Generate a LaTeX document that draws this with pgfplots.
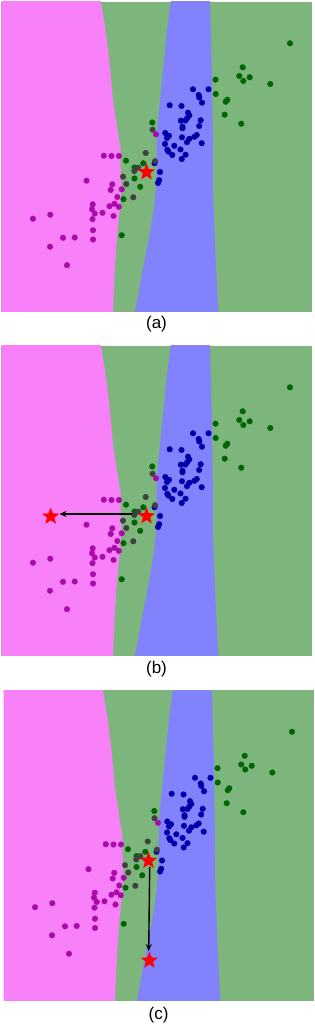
\documentclass[border=0pt]{standalone}
\usepackage{fontspec}
\setmainfont{Liberation Sans}
\usepackage{pgfplots}
\usepackage{pgfplotstable}
\pgfplotsset{compat=1.18}
\usetikzlibrary{arrows.meta}
\definecolor{cpink}{RGB}{248,128,248}
\definecolor{cgreen}{RGB}{125,182,125}
\definecolor{cblue}{RGB}{130,130,252}
\definecolor{pmag}{RGB}{170,10,170}
\definecolor{pgreen}{RGB}{0,100,0}
\definecolor{pblue}{RGB}{0,0,170}
\definecolor{pgray}{RGB}{64,64,64}

\pgfdeclareplotmark{fstar}{%
 \pgfpathmoveto{\pgfpointpolar{90}{\pgfplotmarksize}}%
 \pgfpathlineto{\pgfpointpolar{126}{0.42\pgfplotmarksize}}%
 \pgfpathlineto{\pgfpointpolar{162}{\pgfplotmarksize}}%
 \pgfpathlineto{\pgfpointpolar{198}{0.42\pgfplotmarksize}}%
 \pgfpathlineto{\pgfpointpolar{234}{\pgfplotmarksize}}%
 \pgfpathlineto{\pgfpointpolar{270}{0.42\pgfplotmarksize}}%
 \pgfpathlineto{\pgfpointpolar{306}{\pgfplotmarksize}}%
 \pgfpathlineto{\pgfpointpolar{342}{0.42\pgfplotmarksize}}%
 \pgfpathlineto{\pgfpointpolar{18}{\pgfplotmarksize}}%
 \pgfpathlineto{\pgfpointpolar{54}{0.42\pgfplotmarksize}}%
 \pgfpathclose\pgfusepathqfill}

% decision regions
\pgfplotstableread{
x y
-10 -10
101 -10
101 2
106 33
110 67
113 100
118 133
120.7 150
120.7 167
121.7 187
120.7 200
117.3 233
115 267
113 312
113 330
-10 330
}\pinkregion
\pgfplotstableread{
x y
170.7 -10
170.7 2
166.7 33
163.3 67
160 100
156.7 133
156.7 160
156 187
154 207
150 233
143.3 267
135 312
135 330
218.3 330
218.3 312
216 267
213.3 200
212.7 133
211.7 67
210 2
210 -10
}\blueregion

% scatter points
\pgfplotstableread{
x y
290 43.3
242.7 67.3
239.3 76
243.3 81
249.7 77.3
270.3 84
215.5 79.7
215.7 94
227.3 99.7
225.7 101.7
224.7 114.7
241.3 123.7
152.3 122.5
126 160.7
134.5 167.5
143.3 163.3
134.5 178.5
140.2 186.8
123.5 199.2
121.7 235.3
}\greenpts
\pgfplotstableread{
x y
152.5 129.7
145.7 153
138.3 167.7
134.3 171
155 161.2
123 176.7
126.3 184
133.3 197.3
}\graypts
\pgfplotstableread{
x y
103.8 155.7
111.5 156
119 156
156 134.3
86.5 180.7
112.3 184.3
110.7 190
121.7 189.3
117.3 197
92.7 204.3
92 209.2
94.7 213.5
102.5 212.8
109.5 206.2
114.5 203.8
113.5 216
118.8 206.8
33 218.7
50.3 214.7
92.5 219.2
93 230.2
63 237.8
74.7 237.5
93 239.5
50 246.8
67 265.2
}\magpts
\pgfplotstableread{
x y
193 89.3
208.5 89.3
198.7 95
199.3 97.5
202 102.7
169.7 105.3
181.5 106
188 112.7
189.3 115.5
187.2 118.2
200.7 120.3
180.8 120.7
185.5 120.5
182.5 126.7
182.5 128.3
199.2 126
165.3 133
169 135.8
167 138
196.7 135
194.3 136.8
189.3 138.8
187 142.2
182 137.3
201.7 143.2
165 144
174.3 145.8
167.3 149.8
168.3 151.5
180.5 149.5
172.3 155
185.5 154.7
181.7 159
160 172
159.2 180.2
158 183
154.5 163.3
}\bluepts

\pgfplotsset{
 panel/.style={
  scale only axis, width=310pt, height=310pt,
  xmin=1.5, xmax=311.5, ymin=2, ymax=312, y dir=reverse,
  ticks=none, axis line style={draw=none},
  axis background/.style={fill=cgreen},
  anchor=south west,
  xlabel style={at={(axis description cs:0.5,0)}, anchor=center, font=\fontsize{17}{20}\selectfont},
 },
 dots/.style={only marks, mark=*, mark size=2.8pt, mark options={draw=none}},
}

\newcommand{\drawbase}{%
 \addplot[fill=cpink, draw=none] table {\pinkregion};
 \addplot[fill=cblue, draw=none] table {\blueregion};
 \addplot[dots, pgreen] table {\greenpts};
 \addplot[dots, pmag] table {\magpts};
 \addplot[dots, pblue] table {\bluepts};
 \addplot[dots, pgray] table {\graypts};
}

\begin{document}
\begin{tikzpicture}
\path[use as bounding box] (0pt,0pt) rectangle (314pt,1024pt);

\begin{axis}[panel, at={(1.5pt,712pt)}, xlabel={(a)}, xlabel style={yshift=-12pt}]
 \drawbase
 \addplot[only marks, mark=fstar, mark size=9pt, red] coordinates {(146.5,172.2)};
\end{axis}

\begin{axis}[panel, at={(1.5pt,368pt)}, xlabel={(b)}, xlabel style={yshift=-13pt}]
 \drawbase
 \addplot[black, line width=1.4pt, -{Stealth[length=7pt,width=6pt]}] coordinates {(135.7,170) (59.5,170)};
 \addplot[only marks, mark=fstar, mark size=9pt, red] coordinates {(146.5,172.2) (50.7,172.5)};
\end{axis}

\begin{axis}[panel, at={(3.5pt,23.5pt)}, xlabel={(c)}, xlabel style={yshift=-15pt}]
 \drawbase
 \addplot[black, line width=1.4pt, -{Stealth[length=7pt,width=6pt]}] coordinates {(147.7,178.7) (146.7,262.5)};
 \addplot[only marks, mark=fstar, mark size=9pt, red] coordinates {(146.5,172.2) (147.4,272)};
\end{axis}
\end{tikzpicture}
\end{document}
